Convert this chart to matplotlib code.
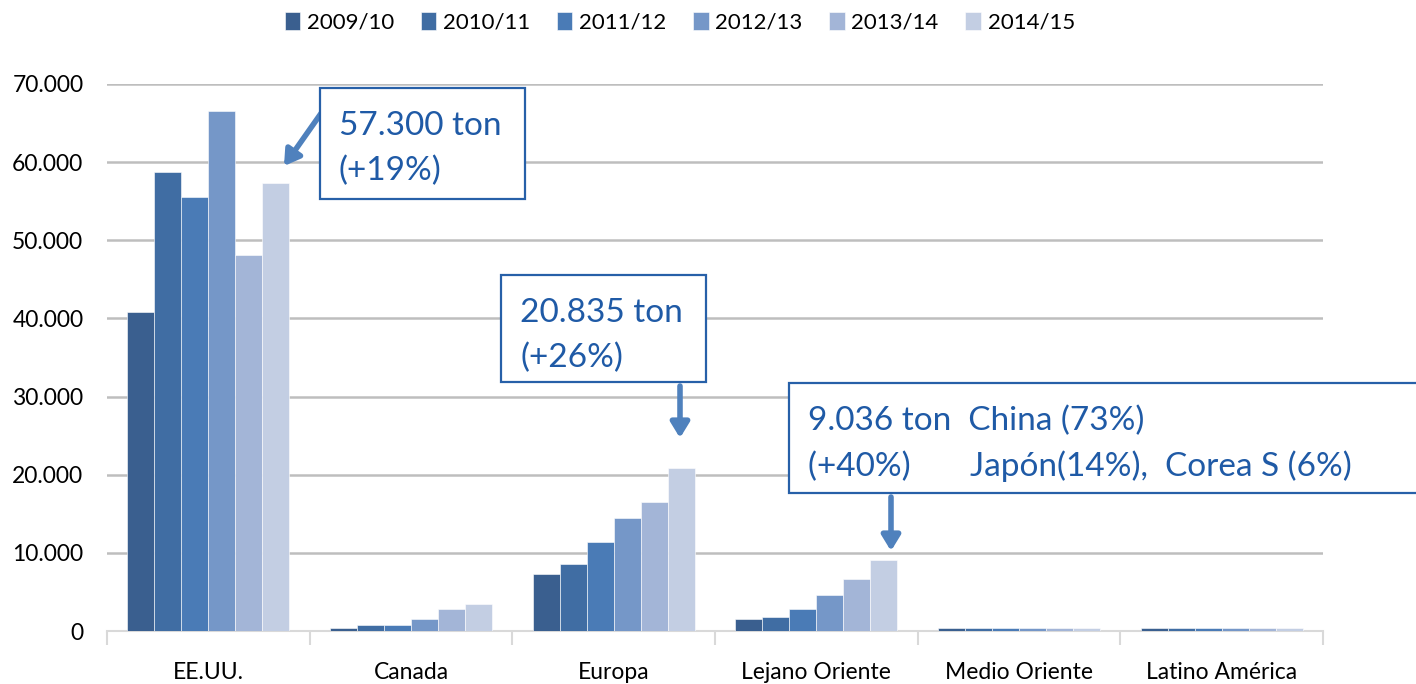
import numpy as np
import matplotlib.pyplot as plt
from matplotlib.patches import Rectangle
from matplotlib.ticker import FuncFormatter

plt.rcParams['font.family'] = ['Lato', 'DejaVu Sans']

regiones = ['EE.UU.', 'Canada', 'Europa', 'Lejano Oriente', 'Medio Oriente', 'Latino América']
campanas = ['2009/10', '2010/11', '2011/12', '2012/13', '2013/14', '2014/15']
colores = ['#3A5F8F', '#406DA3', '#4A7BB6', '#7597C8', '#A3B5D7', '#C3CEE3']

v_2009 = [40800, 400, 7300, 1500, 400, 400]
v_2010 = [58700, 800, 8600, 1850, 400, 400]
v_2011 = [55500, 800, 11400, 2850, 400, 400]
v_2012 = [66550, 1500, 14500, 4550, 400, 400]
v_2013 = [48100, 2800, 16500, 6650, 400, 400]
v_2014 = [57300, 3500, 20900, 9036, 400, 400]
series = [v_2009, v_2010, v_2011, v_2012, v_2013, v_2014]

W, H = 1416, 684
fig = plt.figure(figsize=(W / 100, H / 100), dpi=100)
ax = fig.add_axes([107 / W, 1 - 631 / H, 1216 / W, 547 / H])

x = np.arange(len(regiones))
bw = 0.8 / 6
for i, vals in enumerate(series):
    ax.bar(x - 0.4 + bw * (i + 0.5), vals, bw, color=colores[i], label=campanas[i],
           edgecolor='white', linewidth=0.4, zorder=3)

ax.set_xlim(-0.5, len(regiones) - 0.5)
ax.set_ylim(0, 70000)
ax.set_yticks(np.arange(0, 70001, 10000))
ax.yaxis.set_major_formatter(FuncFormatter(lambda v, p: '{:,.0f}'.format(v).replace(',', '.')))
ax.grid(axis='y', color='#BEBEBE', linewidth=1.8, zorder=0)
for s in ['top', 'right', 'left']:
    ax.spines[s].set_visible(False)
ax.spines['bottom'].set_color('#D9D9D9')
ax.spines['bottom'].set_linewidth(1.5)
ax.tick_params(axis='y', length=0, pad=17, labelsize=16.5)
ax.set_xticks(x)
ax.set_xticklabels(regiones, fontsize=16.5)
ax.tick_params(axis='x', length=0, pad=22)
ax.set_xticks(np.arange(-0.5, len(regiones)), minor=True)
ax.tick_params(axis='x', which='minor', length=10, color='#D9D9D9', width=1.5)

fig.legend(loc='upper center', bbox_to_anchor=(0.48, 1.012), ncol=6, frameon=False,
           fontsize=16, handlelength=0.7, handleheight=0.9, handletextpad=0.3,
           columnspacing=1.2)


def fx(px):
    return px / W


def fy(py):
    return 1 - py / H


azul = '#1F5AA6'
flecha = '#4F81BD'
cajas = [
    ((320, 88, 525, 199), ['57.300 ton', '(+19%)'], (322, 112), (284, 166)),
    ((501, 275, 706, 382), ['20.835 ton', '(+26%)'], (680, 386), (680, 438)),
    ((789, 383, 1430, 493), ['9.036 ton  China (73%)', '(+40%)       Japón(14%),  Corea S (6%)'],
     (891, 497), (891, 551)),
]
for (x0, y0, x1, y1), lineas, ini, fin in cajas:
    fig.patches.append(Rectangle((fx(x0), fy(y1)), fx(x1 - x0), (y1 - y0) / H,
                                 transform=fig.transFigure, fill=True, facecolor='white',
                                 edgecolor='#2760A8', linewidth=1.6, zorder=5))
    for k, t in enumerate(lineas):
        fig.text(fx(x0 + 19), fy(y0 + 38 + 45 * k), t, fontsize=24, color=azul,
                 va='center', ha='left', zorder=6)
    fig.add_artist(plt.Annotation('', xy=(fx(fin[0]), fy(fin[1])), xytext=(fx(ini[0]), fy(ini[1])),
                                  xycoords='figure fraction', textcoords='figure fraction',
                                  arrowprops=dict(arrowstyle='-|>,head_length=0.9,head_width=0.55',
                                                  color=flecha, lw=4, shrinkA=0, shrinkB=0)))

fig.savefig('out.png', dpi=100)
